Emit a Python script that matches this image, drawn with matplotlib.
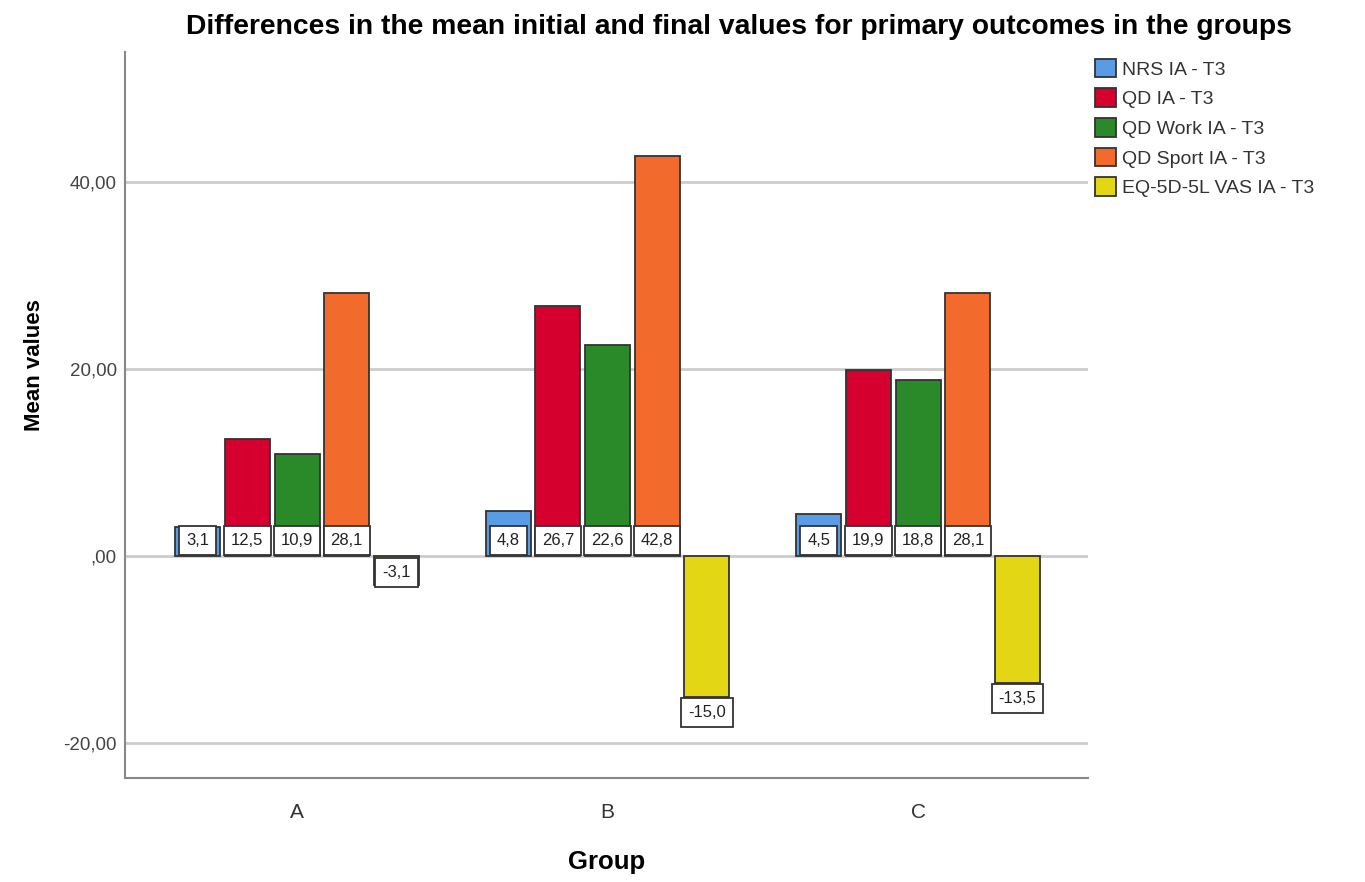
import numpy as np
import matplotlib
matplotlib.use("Agg")
import matplotlib.pyplot as plt
from matplotlib.ticker import FuncFormatter

plt.rcParams['font.family'] = ['Liberation Sans', 'DejaVu Sans']

groups = ['A', 'B', 'C']
series = ['NRS IA - T3', 'QD IA - T3', 'QD Work IA - T3', 'QD Sport IA - T3', 'EQ-5D-5L VAS IA - T3']
values = {
    'NRS IA - T3': [3.1, 4.8, 4.5],
    'QD IA - T3': [12.5, 26.7, 19.9],
    'QD Work IA - T3': [10.9, 22.6, 18.8],
    'QD Sport IA - T3': [28.1, 42.8, 28.1],
    'EQ-5D-5L VAS IA - T3': [-3.1, -15.0, -13.5],
}
colors = ['#5a9be6', '#d5002e', '#2a8a2a', '#f26a2c', '#e3d614']


def fmt_comma(v, pos=None):
    s = f"{v:.2f}".replace('.', ',')
    if v == 0:
        s = ',00'
    return s


fig = plt.figure(figsize=(13.65, 8.82), dpi=100)
ax = fig.add_axes([125 / 1365, 1 - 778 / 882, (1088 - 125) / 1365, (778 - 52) / 882])

x = np.arange(len(groups))
pitch = 0.16
width = 0.145
lab_fs = 12
lab_pad = 0.42
box = dict(boxstyle=f'square,pad={lab_pad}', fc='white', ec='#333333', lw=1.3)
off = lab_pad * lab_fs + 1.0

handles = []
for i, name in enumerate(series):
    xs = x + (i - 2) * pitch
    bars = ax.bar(xs, values[name], width, color=colors[i], edgecolor='#333333',
                  linewidth=1.3, label=name, zorder=3)
    handles.append(bars)
    for xi, v in zip(xs, values[name]):
        lbl = f"{v:.1f}".replace('.', ',')
        if v >= 0:
            ax.annotate(lbl, (xi, 0), xytext=(0, off), textcoords='offset points',
                        ha='center', va='bottom', fontsize=lab_fs, color='#222222',
                        zorder=5, bbox=box)
        else:
            yy = 0 if v > -5 else v
            ax.annotate(lbl, (xi, yy), xytext=(0, -off), textcoords='offset points',
                        ha='center', va='top', fontsize=lab_fs, color='#222222',
                        zorder=5, bbox=box)

ax.set_xlim(-0.554, 2.547)
ax.set_ylim(-23.7, 53.9)
ax.set_yticks([-20, 0, 20, 40])
ax.yaxis.set_major_formatter(FuncFormatter(fmt_comma))
ax.set_xticks(x)
ax.set_xticklabels(groups, fontsize=15, color='#333333')
ax.tick_params(axis='y', labelsize=13.5, labelcolor='#444444', length=0, pad=6)
ax.tick_params(axis='x', length=0, pad=18)
ax.grid(axis='y', color='#cccccc', linewidth=2, zorder=0)
ax.set_axisbelow(True)
for s in ['top', 'right']:
    ax.spines[s].set_visible(False)
for s in ['left', 'bottom']:
    ax.spines[s].set_color('#888888')
    ax.spines[s].set_linewidth(1.5)

ax.set_ylabel('Mean values', fontsize=16, fontweight='bold')
ax.yaxis.set_label_coords(-0.083, 0.569)
ax.set_xlabel('Group', fontsize=18.5, fontweight='bold', labelpad=20)
fig.suptitle('Differences in the mean initial and final values for primary outcomes in the groups',
             fontsize=20.3, fontweight='bold', x=0.541, y=1 - 14 / 882, va='top')

fig.legend(handles=handles, labels=series, loc='upper left', bbox_to_anchor=(1087 / 1365, 1 - 51 / 882),
           frameon=False, fontsize=14, handlelength=1.1, handleheight=1.1, handletextpad=0.3,
           labelspacing=0.5, borderaxespad=0, labelcolor='#333333')

fig.savefig('out.png', dpi=100)
